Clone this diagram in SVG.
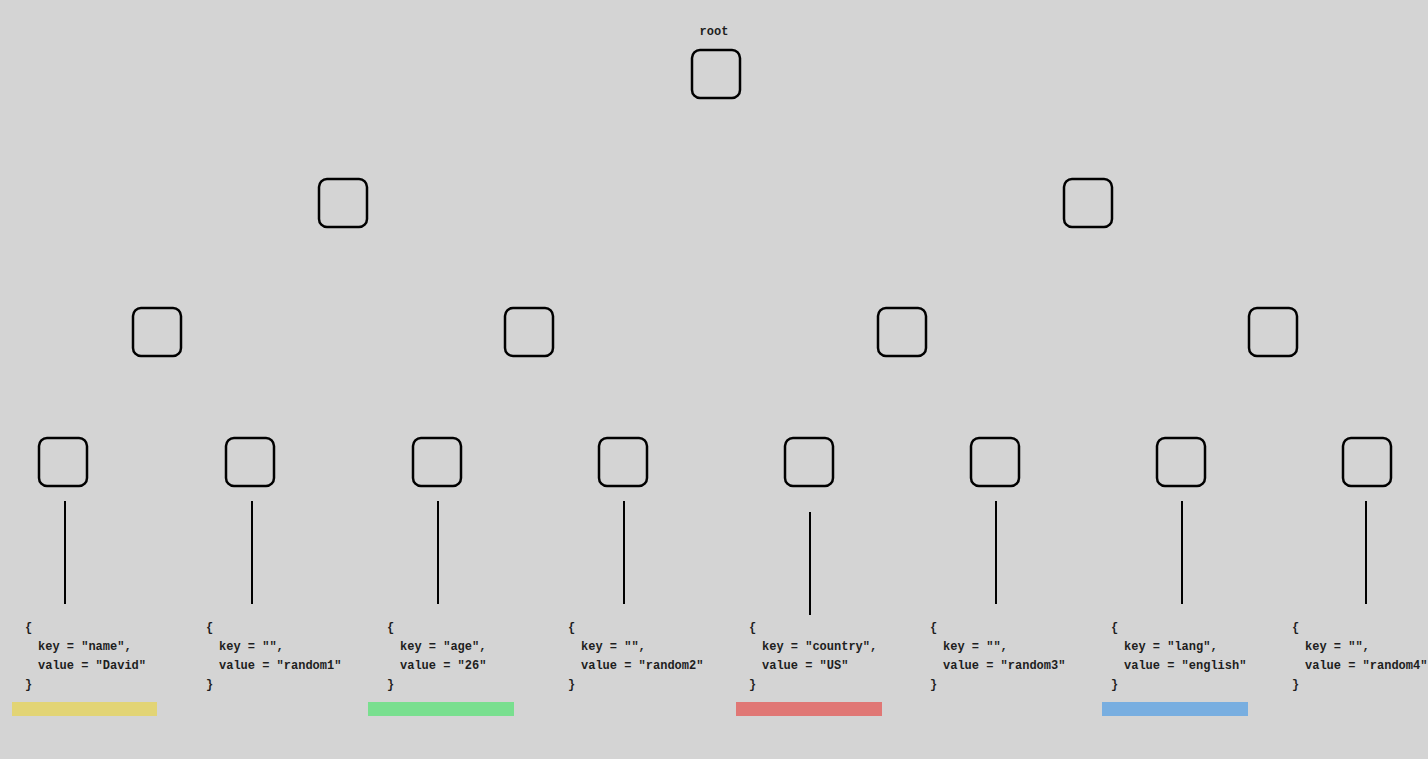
<svg xmlns="http://www.w3.org/2000/svg" width="1428" height="759" viewBox="0 0 1428 759">
<style>
.n{fill:none;stroke:#000;stroke-width:2.5}
.t{font-family:"Liberation Mono","DejaVu Sans Mono",monospace;font-size:12px;font-weight:bold;fill:#1e1e1e;white-space:pre}
.c line{stroke:#000;stroke-width:2}
</style>
<rect width="1428" height="759" fill="#d4d4d4"/>
<text class="t" x="714" y="35" text-anchor="middle">root</text>
<g id="root"><rect class="n" x="692" y="50" width="48" height="48" rx="8"/></g>
<g id="n1"><rect class="n" x="319" y="179" width="48" height="48" rx="8"/></g>
<g id="n2"><rect class="n" x="1064" y="179" width="48" height="48" rx="8"/></g>
<g id="n3"><rect class="n" x="133" y="308" width="48" height="48" rx="8"/></g>
<g id="n4"><rect class="n" x="505" y="308" width="48" height="48" rx="8"/></g>
<g id="n5"><rect class="n" x="878" y="308" width="48" height="48" rx="8"/></g>
<g id="n6"><rect class="n" x="1249" y="308" width="48" height="48" rx="8"/></g>
<g id="l1"><rect class="n" x="39" y="438" width="48" height="48" rx="8"/></g>
<g id="l2"><rect class="n" x="226" y="438" width="48" height="48" rx="8"/></g>
<g id="l3"><rect class="n" x="413" y="438" width="48" height="48" rx="8"/></g>
<g id="l4"><rect class="n" x="599" y="438" width="48" height="48" rx="8"/></g>
<g id="l5"><rect class="n" x="785" y="438" width="48" height="48" rx="8"/></g>
<g id="l6"><rect class="n" x="971" y="438" width="48" height="48" rx="8"/></g>
<g id="l7"><rect class="n" x="1157" y="438" width="48" height="48" rx="8"/></g>
<g id="l8"><rect class="n" x="1343" y="438" width="48" height="48" rx="8"/></g>
<g id="connectors" class="c">
<line x1="65" y1="501" x2="65" y2="604"/>
<line x1="252" y1="501" x2="252" y2="604"/>
<line x1="438" y1="501" x2="438" y2="604"/>
<line x1="624" y1="501" x2="624" y2="604"/>
<line x1="810" y1="512" x2="810" y2="615"/>
<line x1="996" y1="501" x2="996" y2="604"/>
<line x1="1182" y1="501" x2="1182" y2="604"/>
<line x1="1366" y1="501" x2="1366" y2="604"/>
</g>
<g id="d1" class="t"><text x="25" y="631">{</text><text x="38" y="650">key = "name",</text><text x="38" y="669">value = "David"</text><text x="25" y="688">}</text></g>
<g id="d2" class="t"><text x="206" y="631">{</text><text x="219" y="650">key = "",</text><text x="219" y="669">value = "random1"</text><text x="206" y="688">}</text></g>
<g id="d3" class="t"><text x="387" y="631">{</text><text x="400" y="650">key = "age",</text><text x="400" y="669">value = "26"</text><text x="387" y="688">}</text></g>
<g id="d4" class="t"><text x="568" y="631">{</text><text x="581" y="650">key = "",</text><text x="581" y="669">value = "random2"</text><text x="568" y="688">}</text></g>
<g id="d5" class="t"><text x="749" y="631">{</text><text x="762" y="650">key = "country",</text><text x="762" y="669">value = "US"</text><text x="749" y="688">}</text></g>
<g id="d6" class="t"><text x="930" y="631">{</text><text x="943" y="650">key = "",</text><text x="943" y="669">value = "random3"</text><text x="930" y="688">}</text></g>
<g id="d7" class="t"><text x="1111" y="631">{</text><text x="1124" y="650">key = "lang",</text><text x="1124" y="669">value = "english"</text><text x="1111" y="688">}</text></g>
<g id="d8" class="t"><text x="1292" y="631">{</text><text x="1305" y="650">key = "",</text><text x="1305" y="669">value = "random4"</text><text x="1292" y="688">}</text></g>
<rect x="12" y="702" width="145" height="14" fill="#e2d475"/>
<rect x="368" y="702" width="146" height="14" fill="#79df8f"/>
<rect x="736" y="702" width="146" height="14" fill="#e07775"/>
<rect x="1102" y="702" width="146" height="14" fill="#78aee0"/>
</svg>
